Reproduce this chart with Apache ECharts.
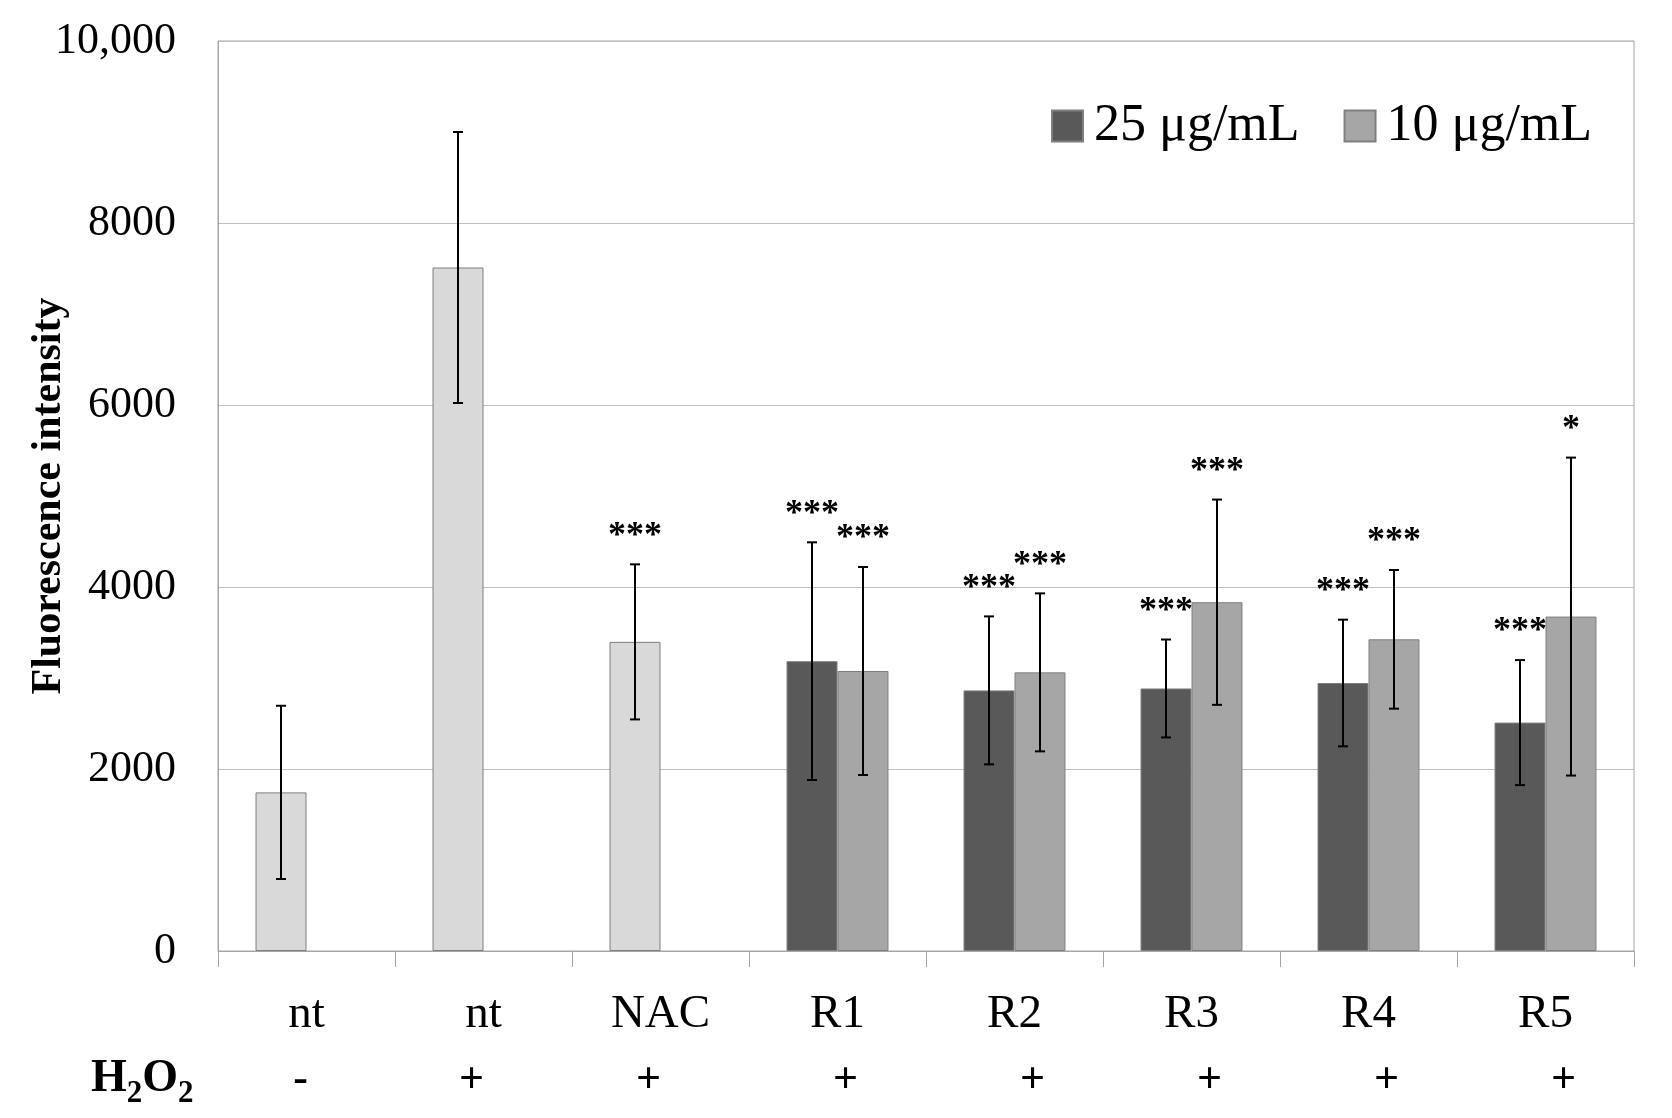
<!DOCTYPE html>
<html><head><meta charset="utf-8">
<script src="https://cdn.jsdelivr.net/npm/echarts@6/dist/echarts.min.js"></script>
<style>html,body{margin:0;padding:0;background:#fff}#c{width:1672px;height:1118px}</style>
</head><body><div id="c"></div>
<script>
// ---- data ----
const categories = ['nt', 'nt', 'NAC', 'R1', 'R2', 'R3', 'R4', 'R5'];
const h2o2 = ['-', '+', '+', '+', '+', '+', '+', '+'];
const isControl = [true, true, true, false, false, false, false, false];
const dose25 = [1743, 7511, 3397, 3185, 2864, 2885, 2945, 2510];
const err25  = [952, 1489, 852, 1306, 813, 538, 696, 687];
const sig25  = ['', '', '***', '***', '***', '***', '***', '***'];
const dose10 = [null, null, null, 3077, 3062, 3833, 3425, 3675];
const err10  = [null, null, null, 1143, 868, 1128, 762, 1747];
const sig10  = ['', '', '', '***', '***', '***', '***', '*'];
const yTickLabels = ['0', '2000', '4000', '6000', '8000', '10,000'];
const seriesNames = ['25 μg/mL', '10 μg/mL'];

// ---- styling ----
const FONT = "'Liberation Serif', 'DejaVu Serif', serif";
const CAT_GAP = 0.424;
// small horizontal nudges (px) of the H2O2 +/- marks, as in the original figure
const h2o2Nudge = [-6, -12, -12, 8, 18, 18, 18, 18];
const h2o2Rich = {};
h2o2Nudge.forEach((n, i) => {
  h2o2Rich['s' + i] = {
    fontFamily: FONT, fontSize: 44, color: '#000', fontWeight: 'bold',
    padding: n >= 0 ? [0, 0, 0, 2 * n] : [0, -2 * n, 0, 0]
  };
});

const chart = echarts.init(document.getElementById('c'));

function errSeries(values, errs, sigs, side) {
  const data = [];
  values.forEach((v, i) => { if (v != null) data.push([i, v, errs[i]]); });
  return {
    type: 'custom',
    z: 5,
    silent: true,
    encode: { x: 0, y: 1 },
    data: data,
    renderItem(params, api) {
      const i = api.value(0), v = api.value(1), e = api.value(2);
      const cw = api.size([1, 0])[0];
      const bw = cw * (1 - CAT_GAP) / 2;
      const c = api.coord([i, v]);
      const x = c[0] + side * bw / 2;
      const yHi = api.coord([i, v + e])[1];
      const yLo = api.coord([i, v - e])[1];
      const ls = { stroke: '#000', lineWidth: 2 };
      const children = [
        { type: 'line', shape: { x1: x, y1: yHi, x2: x, y2: yLo }, style: ls },
        { type: 'line', shape: { x1: x - 5, y1: yHi, x2: x + 5, y2: yHi }, style: ls },
        { type: 'line', shape: { x1: x - 5, y1: yLo, x2: x + 5, y2: yLo }, style: ls }
      ];
      const s = sigs[i];
      if (s) {
        children.push({ type: 'text', style: {
          text: s, x: x, y: yHi - 28, align: 'center', verticalAlign: 'middle',
          fontSize: 36, fontWeight: 'bold', fontFamily: FONT, fill: '#000' } });
      }
      return { type: 'group', children };
    }
  };
}

const option = {
  backgroundColor: '#fff',
  animation: false,
  grid: { left: 218, right: 38, top: 41, bottom: 167, show: true, borderColor: '#a6a6a6', borderWidth: 1,
          containLabel: false, outerBoundsMode: 'none' },
  legend: {
    left: 1046, top: 95, itemWidth: 31, itemHeight: 31, itemGap: 44, icon: 'rect',
    data: seriesNames,
    textStyle: { fontFamily: FONT, fontSize: 52, color: '#000', padding: [0, 0, 0, 6] }
  },
  xAxis: [
    {
      type: 'category', data: categories,
      axisLine: { lineStyle: { color: '#a6a6a6', width: 1 } },
      axisTick: { show: true, length: 16, lineStyle: { color: '#a6a6a6' } },
      axisLabel: { fontFamily: FONT, fontSize: 47, color: '#000', margin: 40 },
      splitLine: { show: false }
    },
    {
      type: 'category', data: h2o2, position: 'bottom',
      axisLine: { show: false }, axisTick: { show: false }, splitLine: { show: false },
      axisLabel: { margin: 108, rich: h2o2Rich,
        formatter: (v, i) => '{s' + i + '|' + v + '}' }
    }
  ],
  yAxis: {
    type: 'value', min: 0, max: 10000, interval: 2000,
    name: 'Fluorescence intensity', nameLocation: 'middle', nameGap: 148, nameMoveOverlap: false,
    nameTextStyle: { fontFamily: FONT, fontSize: 42, fontWeight: 'bold', color: '#000' },
    axisLine: { show: true, lineStyle: { color: '#a6a6a6', width: 1 } },
    axisTick: { show: false },
    splitLine: { lineStyle: { color: '#bfbfbf', width: 1 } },
    axisLabel: { fontFamily: FONT, fontSize: 44, color: '#000', margin: 42,
      formatter: v => yTickLabels[Math.round(v / 2000)] }
  },
  graphic: [{
    type: 'text', x: 91, y: 1079,
    style: {
      text: 'H{s|2}O{s|2}', fontFamily: FONT, fontSize: 46, fontWeight: 'bold', fill: '#000',
      verticalAlign: 'middle', align: 'left',
      rich: { s: { fontFamily: FONT, fontSize: 31, fontWeight: 'bold', padding: [30, 0, 0, 0] } }
    }
  }],
  series: [
    {
      name: seriesNames[0], type: 'bar', barGap: '0%', barCategoryGap: (CAT_GAP * 100) + '%',
      itemStyle: { color: '#595959', borderColor: '#7f7f7f', borderWidth: 1 },
      data: dose25.map((v, i) => isControl[i] ? { value: v, itemStyle: { color: '#d9d9d9' } } : v)
    },
    {
      name: seriesNames[1], type: 'bar', barGap: '0%', barCategoryGap: (CAT_GAP * 100) + '%',
      itemStyle: { color: '#a6a6a6', borderColor: '#7f7f7f', borderWidth: 1 },
      data: dose10.map(v => v == null ? '-' : v)
    },
    errSeries(dose25, err25, sig25, -1),
    errSeries(dose10, err10, sig10, 1)
  ]
};
chart.setOption(option);
</script>
</body></html>
